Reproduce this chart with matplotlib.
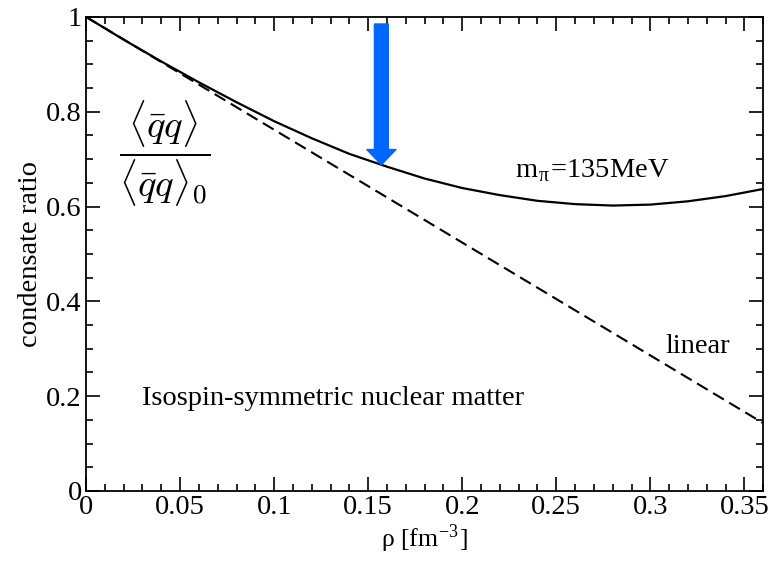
import matplotlib.pyplot as plt

# solid curve (m_pi = 135 MeV)
rho = [0.0, 0.02, 0.04, 0.06, 0.08, 0.10, 0.12, 0.14, 0.16, 0.18,
       0.20, 0.22, 0.24, 0.26, 0.28, 0.30, 0.32, 0.34, 0.36]
ratio = [1.0, 0.952, 0.906, 0.862, 0.820, 0.780, 0.744, 0.711, 0.684, 0.659,
         0.639, 0.624, 0.612, 0.605, 0.602, 0.604, 0.611, 0.622, 0.637]

# linear approximation (dashed)
lin_rho = [0.0, 0.36]
lin_ratio = [1.0, 0.143]

xticks = [0, 0.05, 0.1, 0.15, 0.2, 0.25, 0.3, 0.35]
xticklabels = ['0', '0.05', '0.1', '0.15', '0.2', '0.25', '0.3', '0.35']
yticks = [0, 0.2, 0.4, 0.6, 0.8, 1.0]
yticklabels = ['0', '0.2', '0.4', '0.6', '0.8', '1']

# saturation density marked by the arrow
rho0 = 0.157
arrow_top = 0.985
arrow_tip = 0.688

plt.rcParams['font.family'] = ['Liberation Serif', 'DejaVu Serif']
plt.rcParams['mathtext.fontset'] = 'cm'

fig = plt.figure(figsize=(7.82, 5.63), dpi=100)
ax = fig.add_axes([0.110, 0.128, 0.866, 0.842])

ax.plot(rho, ratio, color='black', lw=1.6)
ax.plot(lin_rho, lin_ratio, color='black', lw=1.5, dashes=(6, 3))

ax.set_xlim(0, 0.36)
ax.set_ylim(0, 1)
ax.set_xticks(xticks)
ax.set_xticklabels(xticklabels)
ax.set_yticks(yticks)
ax.set_yticklabels(yticklabels)
ax.set_xticks([i * 0.01 for i in range(37)], minor=True)
ax.set_yticks([i * 0.05 for i in range(21)], minor=True)
ax.tick_params(which='both', direction='in', top=True, right=True, width=1.2)
ax.tick_params(which='major', length=10, labelsize=20.5, pad=3)
ax.tick_params(which='minor', length=5)
for s in ax.spines.values():
    s.set_linewidth(1.3)

ax.set_xlabel(r'ρ [fm$^{\mathregular{-3}}$]', fontsize=18.5)
ax.xaxis.set_label_coords(0.5, -0.066)
ax.set_ylabel('condensate ratio', fontsize=20.5)
ax.yaxis.set_label_coords(-0.064, 0.5)

ax.text(0.228, 0.662, r'm$_{\mathregular{\pi}}$=135MeV', fontsize=20.5, va='baseline')
ax.text(0.308, 0.291, 'linear', fontsize=20.5, va='baseline')
ax.text(0.030, 0.181, 'Isospin-symmetric nuclear matter', fontsize=20.5, va='baseline')
ax.text(0.042, 0.711, r'$\dfrac{\langle\bar{q}q\rangle}{\langle\bar{q}q\rangle_0}$',
        fontsize=28, ha='center', va='center')

ax.annotate('', xy=(rho0, arrow_tip), xytext=(rho0, arrow_top),
            arrowprops=dict(width=10, headwidth=21, headlength=11,
                            color='#0066ff', shrink=0))

fig.savefig('out.png', dpi=100)
